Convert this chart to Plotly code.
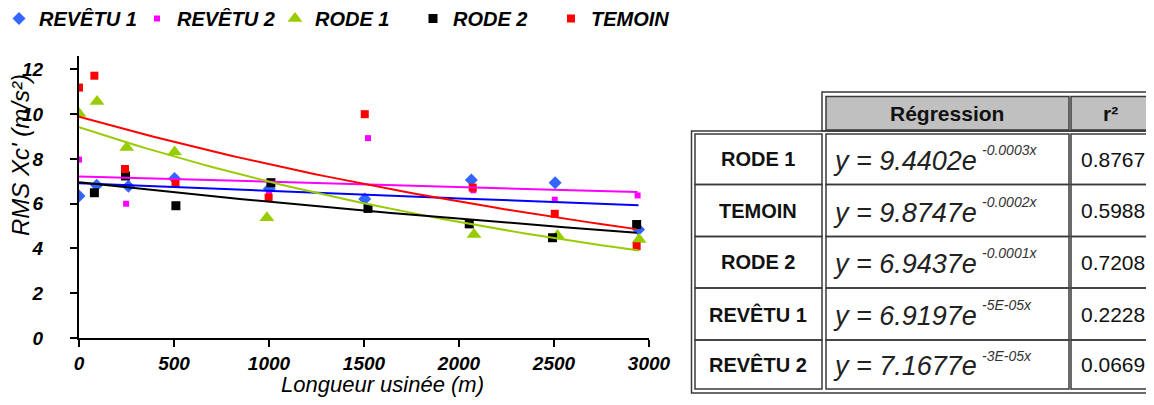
import numpy as np
import plotly.graph_objects as go

# ---------------- data ----------------
series_names = ["REVÊTU 1", "REVÊTU 2", "RODE 1", "RODE 2", "TEMOIN"]

revetu1_x = [0, 93, 260, 503, 1002, 1504, 2065, 2506, 2945]
revetu1_y = [6.34, 6.83, 6.78, 7.13, 6.67, 6.21, 7.06, 6.94, 4.85]

revetu2_x = [0, 248, 1000, 1521, 2075, 2504, 2940]
revetu2_y = [7.97, 6.00, 6.48, 8.93, 6.60, 6.18, 6.37]

rode1_x = [0, 95, 251, 503, 989, 2079, 2518, 2948]
rode1_y = [10.03, 10.57, 8.51, 8.31, 5.37, 4.63, 4.58, 4.40]

rode2_x = [81, 245, 510, 1010, 1521, 2054, 2492, 2935]
rode2_y = [6.49, 7.24, 5.91, 6.94, 5.79, 5.10, 4.48, 5.07]

temoin_x = [0, 81, 242, 508, 998, 1504, 2072, 2504, 2935]
temoin_y = [11.19, 11.72, 7.55, 6.92, 6.27, 10.00, 6.72, 5.55, 4.10]

x_ticks = [0, 500, 1000, 1500, 2000, 2500, 3000]
y_ticks = [0, 2, 4, 6, 8, 10, 12]

table_labels = ["RODE 1", "TEMOIN", "RODE 2", "REVÊTU 1", "REVÊTU 2"]
table_coef = ["9.4402", "9.8747", "6.9437", "6.9197", "7.1677"]
table_exp = ["-0.0003x", "-0.0002x", "-0.0001x", "-5E-05x", "-3E-05x"]
table_r2 = ["0.8767", "0.5988", "0.7208", "0.2228", "0.0669"]

# ---------------- styles ----------------
marker_colors = ["#3366ff", "#ff00ff", "#99cc00", "#000000", "#ff0000"]
line_colors = ["#0000ff", "#ff00ff", "#99cc00", "#000000", "#ff0000"]
symbols = ["diamond", "square", "triangle-up", "square", "square"]
sizes = [10, 6, 13, 9, 8]

xs = [revetu1_x, revetu2_x, rode1_x, rode2_x, temoin_x]
ys = [revetu1_y, revetu2_y, rode1_y, rode2_y, temoin_y]

FONT = "Liberation Sans, Arial, sans-serif"
OFF = 8                      # page body margin: figure starts 8px from window edge
W, H = 1154 - OFF, 405 - OFF
ML, MR, MT, MB = 71, 505, 48, 67
PW, PH = W - ML - MR, H - MT - MB


def px2x(px):
    """window pixel x -> paper x"""
    return (px - OFF - ML) / PW


def px2y(py):
    """window pixel y -> paper y"""
    return (H - MB - (py - OFF)) / PH


fig = go.Figure()

for name, x, y, c, s, sz in zip(series_names, xs, ys, marker_colors, symbols, sizes):
    fig.add_trace(go.Scatter(x=x, y=y, mode="markers", name=name,
                             marker=dict(color=c, symbol=s, size=sz, line=dict(width=0))))

# exponential trendlines (least squares on ln y, as the spreadsheet does)
for name, x, y, c in zip(series_names, xs, ys, line_colors):
    xa = np.array(x, dtype=float)
    b, lna = np.polyfit(xa, np.log(np.array(y, dtype=float)), 1)
    xf = np.linspace(0, xa.max(), 60)
    fig.add_trace(go.Scatter(x=xf, y=np.exp(lna + b * xf), mode="lines",
                             line=dict(color=c, width=2), showlegend=False,
                             hoverinfo="skip", name=name + " (tendance)"))

axis_font = dict(family=FONT, size=19, color="black", weight="bold", style="italic")

fig.update_xaxes(range=[0, 3000], tickvals=x_ticks, ticks="outside", ticklen=7,
                 tickwidth=2, tickcolor="black", showline=True, linecolor="black",
                 linewidth=2, showgrid=False, zeroline=False, tickfont=axis_font,
                 ticklabelstandoff=0, automargin=False)
fig.update_yaxes(range=[0, 12.6], tickvals=y_ticks, ticks="outside", ticklen=7,
                 tickwidth=2, tickcolor="black", showline=True, linecolor="black",
                 linewidth=2, showgrid=False, zeroline=False, tickfont=axis_font,
                 ticklabelposition="outside", ticklabelstandoff=23, automargin=False)

annotations = [
    dict(text="RMS Xc' (m/s²)", textangle=-90, showarrow=False,
         xref="paper", yref="paper", x=px2x(20), y=px2y(155),
         xanchor="center", yanchor="middle",
         font=dict(family=FONT, size=24, color="black", style="italic")),
    dict(text="Longueur usinée (m)", showarrow=False,
         xref="paper", yref="paper", x=px2x(382), y=px2y(384),
         xanchor="center", yanchor="middle",
         font=dict(family=FONT, size=22, color="black", style="italic")),
]

# ---------------- table ----------------
shapes = []
LC = "#3a3a3a"


def rect(x0, y0, x1, y1, fill=None, lw=1.5):
    shapes.append(dict(type="rect", xref="paper", yref="paper",
                       x0=px2x(x0), x1=px2x(x1), y0=px2y(y0), y1=px2y(y1),
                       line=dict(color=LC, width=lw),
                       fillcolor=fill if fill else "rgba(0,0,0,0)", layer="above"))


col1 = (695, 822)
col2 = (826, 1069)
col3 = (1071, 1175)
rows = [134, 184.5, 236.5, 288, 340, 389]

# header block (double border)
rect(822, 92, 1180, 131)
rect(col2[0], 96.5, col2[1], 130, fill="#c0c0c0")
rect(col3[0], 96.5, col3[1], 130, fill="#c0c0c0")
# body block (double border)
rect(691.5, 131, 1180, 393)
for i in range(5):
    for c0, c1 in (col1, col2, col3):
        rect(c0, rows[i], c1, rows[i + 1])

hdr_y = px2y(113)
annotations.append(dict(text="<b>Régression</b>", x=px2x(947), y=hdr_y, xref="paper", yref="paper",
                        showarrow=False, xanchor="center", yanchor="middle",
                        font=dict(family=FONT, size=21, color="#111")))
annotations.append(dict(text="<b>r²</b>", x=px2x(1110), y=hdr_y, xref="paper", yref="paper",
                        showarrow=False, xanchor="center", yanchor="middle",
                        font=dict(family=FONT, size=21, color="#111")))

for i in range(5):
    ymid = (rows[i] + rows[i + 1]) / 2
    yc = px2y(ymid)
    annotations.append(dict(text="<b>" + table_labels[i] + "</b>", x=px2x(758), y=yc,
                            xref="paper", yref="paper", showarrow=False,
                            xanchor="center", yanchor="middle",
                            font=dict(family=FONT, size=20, color="#111")))
    # equation: main part right-aligned, exponent placed after it, raised
    annotations.append(dict(text="y = " + table_coef[i] + "e", x=px2x(979), y=px2y(ymid + 2),
                            xref="paper", yref="paper", showarrow=False,
                            xanchor="right", yanchor="middle",
                            font=dict(family=FONT, size=27, color="#222", style="italic")))
    annotations.append(dict(text=table_exp[i], x=px2x(980), y=px2y(ymid - 9),
                            xref="paper", yref="paper", showarrow=False,
                            xanchor="left", yanchor="middle",
                            font=dict(family=FONT, size=14, color="#333", style="italic")))
    annotations.append(dict(text=table_r2[i], x=px2x(1079), y=yc, xref="paper", yref="paper",
                            showarrow=False, xanchor="left", yanchor="middle",
                            font=dict(family=FONT, size=21, color="#111")))

# legend: anchored by its right edge beyond the plot so it may span one row
LEG_INDENT = -10
LEG_ENTRY = 103
leg_step = LEG_INDENT + 30 + 10 + LEG_ENTRY + 5
leg_left_fig = -OFF - LEG_INDENT - 1      # first symbol near window x = 20
leg_right_fig = leg_left_fig + 5 * leg_step

fig.update_layout(
    width=W, height=H, autosize=False,
    margin=dict(l=ML, r=MR, t=MT, b=MB, autoexpand=False),
    paper_bgcolor="white", plot_bgcolor="white",
    font=dict(family=FONT, color="black"),
    legend=dict(orientation="h", xref="paper", yref="paper",
                x=(leg_right_fig - ML) / PW, xanchor="right",
                y=px2y(18.5), yanchor="middle", indentation=LEG_INDENT,
                entrywidth=LEG_ENTRY, entrywidthmode="pixels", bgcolor="rgba(0,0,0,0)",
                font=dict(family=FONT, size=20, color="black", weight="bold", style="italic"),
                itemclick=False),
    shapes=shapes,
    annotations=annotations,
)

fig.write_html("out.html")
